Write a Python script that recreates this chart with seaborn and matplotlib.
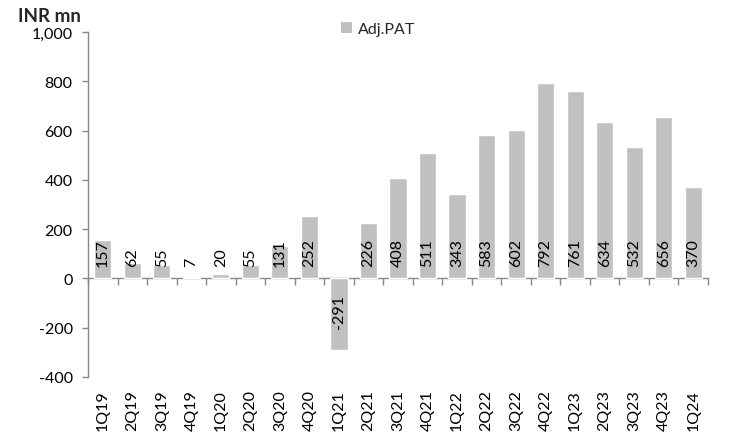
import matplotlib
matplotlib.use("Agg")
import matplotlib.pyplot as plt
import seaborn as sns
import numpy as np
from matplotlib.ticker import FuncFormatter
from matplotlib.patches import Patch

quarters = ["1Q19", "2Q19", "3Q19", "4Q19", "1Q20", "2Q20", "3Q20", "4Q20",
            "1Q21", "2Q21", "3Q21", "4Q21", "1Q22", "2Q22", "3Q22", "4Q22",
            "1Q23", "2Q23", "3Q23", "4Q23", "1Q24"]
adj_pat = [157, 62, 55, 7, 20, 55, 131, 252, -291, 226, 408, 511, 343, 583,
           602, 792, 761, 634, 532, 656, 370]
series_name = "Adj.PAT"
unit_label = "INR mn"
y_ticks = [-400, -200, 0, 200, 400, 600, 800, 1000]

sns.set_theme(style="white")
plt.rcParams["font.family"] = ["Lato", "DejaVu Sans"]

bar_color = "#C0C0C0"
axis_color = "#888888"
fs = 11.5

fig = plt.figure(figsize=(7.43, 4.35), dpi=100)
ax = fig.add_axes([88 / 743, 1 - 378 / 435, (708 - 88) / 743, (378 - 33) / 435])

sns.barplot(x=quarters, y=adj_pat, color=bar_color, width=0.58, ax=ax,
            saturation=1, errorbar=None)

ax.set_ylim(-400, 1000)
ax.set_xlim(-0.5, len(quarters) - 0.5)
ax.set_yticks(y_ticks)
ax.yaxis.set_major_formatter(FuncFormatter(lambda v, p: f"{int(v):,}"))

for s in ["top", "right", "bottom"]:
    ax.spines[s].set_visible(False)
ax.spines["left"].set_color(axis_color)
ax.spines["left"].set_linewidth(1)

ax.tick_params(axis="y", which="major", direction="out", length=4, width=1,
               color=axis_color, labelsize=fs, pad=7, left=True,
               labelcolor="black")
ax.tick_params(axis="x", which="major", length=0, labelsize=fs, pad=9,
               labelrotation=90, labelcolor="black")

# zero line with category-boundary ticks
zero_frac = (0 - (-400)) / (1000 - (-400))
sec = ax.secondary_xaxis(zero_frac)
sec.set_xticks(np.arange(len(quarters) + 1) - 0.5)
sec.set_xticklabels([])
sec.spines["bottom"].set_color(axis_color)
sec.spines["bottom"].set_linewidth(1)
sec.tick_params(axis="x", direction="out", length=5, width=1, color=axis_color,
                bottom=True)

# value labels, inside base, rotated
for i, v in enumerate(adj_pat):
    if v >= 0:
        ax.annotate(str(v), xy=(i, 0), xytext=(0, 9), textcoords="offset points",
                    ha="center", va="bottom", rotation=90, fontsize=fs,
                    color="black")
    else:
        ax.annotate(str(v), xy=(i, 0), xytext=(0, -11), textcoords="offset points",
                    ha="center", va="top", rotation=90, fontsize=fs,
                    color="black")

handle = Patch(facecolor=bar_color, edgecolor="none", label=series_name)
fig.legend(handles=[handle], loc="center", bbox_to_anchor=(378 / 743, 1 - 30 / 435),
           frameon=False, fontsize=fs, handlelength=0.7, handleheight=0.7,
           handletextpad=0.4)

fig.text(18 / 743, 1 - 17 / 435, unit_label, fontsize=13.5, fontweight="bold",
         ha="left", va="center")

fig.savefig("out.png", dpi=100)
